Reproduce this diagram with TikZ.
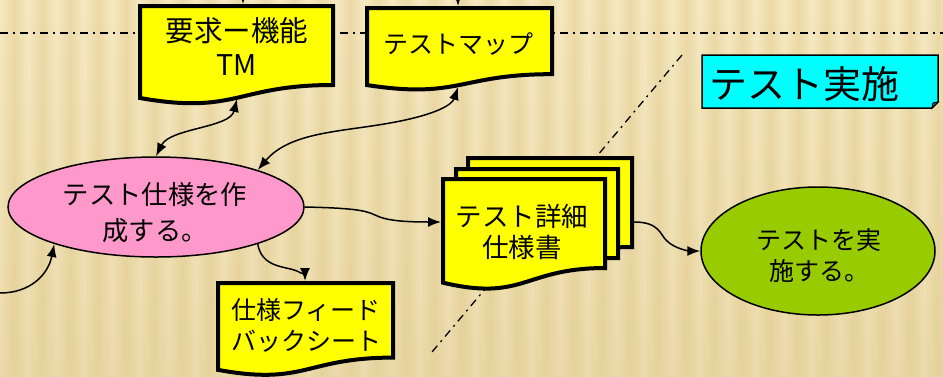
\documentclass[tikz,border=0pt]{standalone}
\usepackage{fontspec}
\setmainfont{Noto Sans CJK JP}
\usetikzlibrary{arrows.meta,shapes.geometric}
\definecolor{bgL}{RGB}{246,233,194}
\definecolor{bgD}{RGB}{235,217,166}
\definecolor{bgS}{RGB}{218,196,135}
\definecolor{docY}{RGB}{255,255,0}
\definecolor{pinkF}{RGB}{255,153,204}
\definecolor{greenF}{RGB}{153,204,0}
\definecolor{cyanF}{RGB}{0,255,255}
\tikzset{
  docbox/.style={fill=docY,draw=black,line width=4pt,line join=miter},
  txt/.style={font=\fontsize{25}{31}\selectfont,align=center,inner sep=0pt},
  conn/.style={line width=1.5pt},
  tipend/.style={-{Latex[length=13pt,width=10pt]}},
  tipboth/.style={{Latex[length=13pt,width=10pt]}-{Latex[length=13pt,width=10pt]}},
  dashdot/.style={line width=1.3pt,dash pattern=on 8pt off 5pt on 2pt off 5pt},
  ell/.style={ellipse,draw=black,line width=1.5pt,inner sep=0pt},
}
\newcommand{\docshape}[4]{%
  \filldraw[docbox] (#1,#2) -- (#3,#2) -- (#3,{#2+0.802*#4})
    .. controls ({(#1+#3)/2},{#2+0.802*#4}) and ({(#1+#3)/2},{#2+1.107*#4}) ..
    (#1,{#2+0.934*#4}) -- cycle;}
\begin{document}
\begin{tikzpicture}[x=1pt,y=-1pt]
\useasboundingbox (0,0) rectangle (943,376);
\clip (0,0) rectangle (943,376);
% background
\fill[bgL] (0,0) rectangle (943,376);
\foreach \i in {0,...,34} {
  \shade[left color=bgL,right color=bgD] ({\i*28},0) rectangle ({\i*28+14},376);
  \shade[left color=bgD,right color=bgL] ({\i*28+14},0) rectangle ({\i*28+28},376);
}
\foreach \j in {0,...,18} {
  \fill[bgS,opacity={0.02*\j}] (0,{\j*20}) rectangle (943,{\j*20+20});
}
% dash-dot separators
\coordinate (hl0) at (0,33);
\coordinate (hl1) at (943,33);
\draw[dashdot] (hl0) -- (hl1);
\coordinate (dg0) at (682,55);
\coordinate (dg1) at (432,352);
\draw[dashdot,line width=1.3pt] (dg0) -- (dg1);

% documents
\docshape{140}{6}{333}{98.5}
\node[txt,font=\fontsize{28.5}{34}\selectfont] (tm1) at (237,47) {要求ー機能\\TM};
\docshape{367}{8}{552}{82.5}
\node[txt] (tm2) at (458,44) {テストマップ};
\docshape{468}{158}{632}{111}
\docshape{456}{169}{618}{111}
\docshape{443}{179}{605}{111}
\node[txt,font=\fontsize{26.5}{31}\selectfont] (spec) at (522,232) {テスト詳細\\仕様書};
\docshape{218}{283}{393}{93}
\node[txt] (fb) at (306,325) {仕様フィード\\バックシート};

% ellipses
\node[ell,fill=pinkF,minimum width=296pt,minimum height=100pt] (mk) at (156,207) {};
\node[txt,font=\fontsize{26.3}{36}\selectfont] (mkt) at (155,213) {テスト仕様を作\\成する。};
\node[ell,fill=greenF,minimum width=234pt,minimum height=128pt] (ex) at (818,251) {};
\node[txt] (ext) at (819,256) {テストを実\\施する。};

% cyan label
\filldraw[fill=cyanF,draw=black,line width=1.5pt] (702,55) -- (938,55) -- (938,102) -- (932,108) -- (702,108) -- cycle;
\filldraw[fill=cyanF!55!black,draw=black,line width=1pt] (938,102) -- (932,108) -- (933,103) -- cycle;
\node[font=\fontsize{38}{40}\selectfont,anchor=west,inner sep=0pt] (ts) at (709,84) {テスト実施};

% connector coordinates
\coordinate (b1) at (237,99);
\coordinate (b2) at (458,87);
\coordinate (d3w) at (441,222);
\coordinate (d1e) at (634,222);
\coordinate (fbt) at (305,281);
\coordinate (lin) at (0,293);
\coordinate (top1) at (243,-30);
\coordinate (top1e) at (243,4);
\coordinate (top2) at (458,-30);
\coordinate (top2e) at (458,6);

% connectors
\draw[conn,tipend] (top1) -- (top1e);
\draw[conn,tipend] (top2) -- (top2e);
\draw[conn,tipboth] (mk.north) .. controls (170,128) and (230,128) .. (b1);
\draw[conn,tipboth] (mk.20) .. controls (290,132) and (340,132) .. (390,123)
   .. controls (435,115) and (452,105) .. (b2);
\draw[conn,tipend] (lin) .. controls (30,293) and (48,275) .. (mk.200);
\draw[conn,tipend] (mk.east) .. controls (350,208) and (365,210) .. (375,215)
   .. controls (385,220) and (400,222) .. (d3w);
\draw[conn,tipend] (mk.-20) .. controls (262,268) and (285,266) .. (297,271)
   .. controls (303,274) and (305,276) .. (fbt);
\draw[conn,tipend] (d1e) .. controls (660,222) and (660,235) .. (667,241)
   .. controls (675,249) and (690,251) .. (ex.west);
\end{tikzpicture}
\end{document}
